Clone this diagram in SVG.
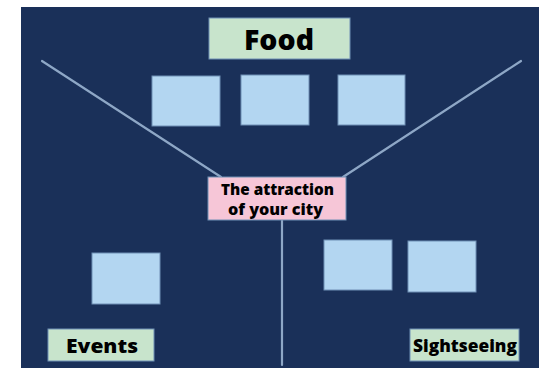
<svg xmlns="http://www.w3.org/2000/svg" width="556" height="369" viewBox="0 0 556 369">
<style>
.bg{fill:#1a3059}
.blue{fill:#b3d6f1;stroke:#6f8fb5;stroke-width:1}
.green{fill:#c8e4cc;stroke:#6f8fb5;stroke-width:1}
.pink{fill:#f6c6d7;stroke:#6f8fb5;stroke-width:1}
.ln{stroke:#8ea7c6;stroke-width:2.2;fill:none;stroke-linecap:round}
.t{font-family:"Open Sans","Liberation Sans",sans-serif;font-weight:800;fill:#000;text-anchor:middle}
</style>
<rect x="0" y="0" width="556" height="369" fill="#ffffff"/>
<rect class="bg" x="21" y="7" width="518" height="361"/>
<g id="connectors">
<line class="ln" x1="42" y1="61" x2="221" y2="177"/>
<line class="ln" x1="521" y1="61" x2="343" y2="177"/>
<line class="ln" x1="282" y1="220" x2="282" y2="365"/>
</g>
<g id="food"><rect class="green" x="209" y="18" width="141" height="41"/><text class="t" x="279" y="50" font-size="29" textLength="70" lengthAdjust="spacingAndGlyphs">Food</text></g>
<g id="food1"><rect class="blue" x="152" y="76" width="68" height="50"/></g>
<g id="food2"><rect class="blue" x="241" y="75" width="68" height="50"/></g>
<g id="food3"><rect class="blue" x="338" y="75" width="67" height="50"/></g>
<g id="center"><rect class="pink" x="208" y="177" width="138" height="43"/><text class="t" x="277.5" y="195" font-size="16" textLength="113" lengthAdjust="spacingAndGlyphs">The attraction</text><text class="t" x="275.5" y="215" font-size="16" textLength="95" lengthAdjust="spacingAndGlyphs">of your city</text></g>
<g id="event1"><rect class="blue" x="92" y="253" width="68" height="51"/></g>
<g id="sight1"><rect class="blue" x="324" y="240" width="68" height="50"/></g>
<g id="sight2"><rect class="blue" x="408" y="241" width="68" height="51"/></g>
<g id="events"><rect class="green" x="48" y="329" width="106" height="32"/><text class="t" x="102" y="353" font-size="20" textLength="72" lengthAdjust="spacingAndGlyphs">Events</text></g>
<g id="sightseeing"><rect class="green" x="410" y="329" width="109" height="32"/><text class="t" x="465" y="352" font-size="17" textLength="104" lengthAdjust="spacingAndGlyphs">Sightseeing</text></g>
</svg>
